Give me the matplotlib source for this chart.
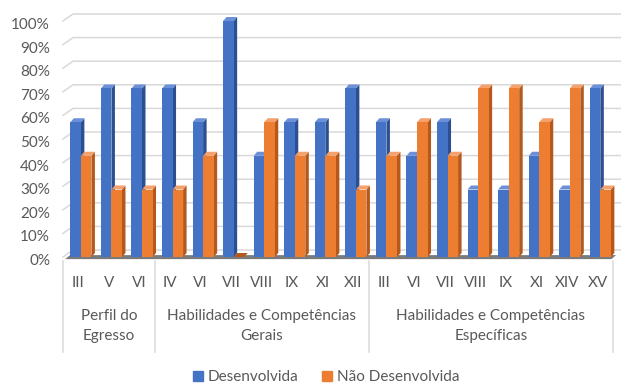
import matplotlib.pyplot as plt
import matplotlib.transforms as mtransforms
from matplotlib.patches import Polygon, Rectangle
import numpy as np

plt.rcParams['font.family'] = ['Lato', 'DejaVu Sans']

# itens avaliados (nível inferior do eixo x) e seus grupos
itens = ["III", "V", "VI",
         "IV", "VI", "VII", "VIII", "IX", "XI", "XII",
         "III", "VI", "VII", "VIII", "IX", "XI", "XIV", "XV"]
grupos = ["Perfil do\nEgresso",
          "Habilidades e Competências\nGerais",
          "Habilidades e Competências\nEspecíficas"]
tam_grupos = [3, 7, 8]

# percentuais (%)
desenvolvida = [57.1, 71.4, 71.4,
                71.4, 57.1, 100.0, 42.9, 57.1, 57.1, 71.4,
                57.1, 42.9, 57.1, 28.6, 28.6, 42.9, 28.6, 71.4]
nao_desenvolvida = [42.9, 28.6, 28.6,
                    28.6, 42.9, 0.0, 57.1, 42.9, 42.9, 28.6,
                    42.9, 57.1, 42.9, 71.4, 71.4, 57.1, 71.4, 28.6]

series = ["Desenvolvida", "Não Desenvolvida"]
cores_frente = ["#4472C4", "#ED7D31"]
cores_lado = ["#2b4f91", "#b5581b"]
cores_topo = ["#6b90d8", "#f4a16b"]

cinza_txt = "#595959"
cinza_grade = "#d9d9d9"

W, H = 621, 385
fig = plt.figure(figsize=(W / 100, H / 100), dpi=100)
ax = fig.add_axes([63 / W, 128 / H, 550 / W, 236 / H])
n = len(itens)
ax.set_xlim(-0.5, n - 0.5)
ax.set_ylim(0, 100)
ax.axis("off")

px_x = 550 / n          # pixels por categoria
px_y = 236 / 100        # pixels por ponto percentual

# profundidade da parede do fundo e das barras
wall_dx, wall_dy = 10 / px_x, 7 / px_y
bar_dx, bar_dy = 3.5 / px_x, 4 / px_y
x_fim = -0.5 + (W - 63) / px_x

# linhas de grade (parede lateral + parede do fundo)
for g in range(0, 101, 10):
    ax.plot([-0.5, -0.5 + wall_dx, x_fim], [g, g + wall_dy, g + wall_dy],
            color=cinza_grade, lw=1.1, clip_on=False, zorder=1)
    ax.text(-0.5, g, f"{g}%", transform=ax.transData + mtransforms.ScaledTranslation(
        -13 / 100, -4 / 100, fig.dpi_scale_trans),
        ha="right", va="center", fontsize=11, color=cinza_txt)

# piso
piso = Polygon([(-0.43, -0.9), (n - 0.55, -0.9), (n - 0.4, 0.8), (-0.27, 0.8)],
               closed=True, facecolor="#7a7a7a", edgecolor="none",
               clip_on=False, zorder=2)
ax.add_patch(piso)

# barras com efeito 3D
larg = 0.345
offsets = [-0.26, 0.085]
x = np.arange(n)
z = 3
for i in range(n):
    for s, vals in enumerate([desenvolvida, nao_desenvolvida]):
        v = vals[i]
        xl = x[i] + offsets[s]
        xr = xl + larg
        lado = Polygon([(xr, 0), (xr + bar_dx, bar_dy), (xr + bar_dx, v + bar_dy), (xr, v)],
                       closed=True, facecolor=cores_lado[s], edgecolor="none",
                       clip_on=False, zorder=z)
        topo_cor = cores_lado[s] if v == 0 else cores_topo[s]
        topo = Polygon([(xl, v), (xl + bar_dx, v + bar_dy), (xr + bar_dx, v + bar_dy), (xr, v)],
                       closed=True, facecolor=topo_cor, edgecolor="none",
                       clip_on=False, zorder=z)
        ax.add_patch(lado)
        ax.add_patch(topo)
        ax.bar(xl, v, width=larg, align="edge", color=cores_frente[s],
               edgecolor="none", zorder=z + 0.5, clip_on=False)
        z += 1

# eixo de categorias em dois níveis
trans = mtransforms.blended_transform_factory(ax.transData, fig.transFigure)
for i, item in enumerate(itens):
    ax.text(i, 1 - 283 / H, item, transform=trans, ha="center", va="center",
            fontsize=11, color=cinza_txt)

limites = np.concatenate([[0], np.cumsum(tam_grupos)]) - 0.5
for b in limites:
    ax.plot([b, b], [1 - 261 / H, 1 - 352 / H], transform=trans,
            color=cinza_grade, lw=1.1, clip_on=False)
for k, nome in enumerate(grupos):
    centro = (limites[k] + limites[k + 1]) / 2
    ax.text(centro, 1 - 326 / H, nome, transform=trans, ha="center",
            va="center", fontsize=11, color=cinza_txt, linespacing=1.55)

# legenda
handles = [Rectangle((0, 0), 1, 1, color=c) for c in cores_frente]
fig.legend(handles, series, loc="center", bbox_to_anchor=(326 / W, 1 - 377 / H),
           ncol=2, frameon=False, fontsize=11, labelcolor=cinza_txt,
           handlelength=0.65, handleheight=0.65, handletextpad=0.3,
           columnspacing=1.6)

fig.savefig("out.png", dpi=100)
